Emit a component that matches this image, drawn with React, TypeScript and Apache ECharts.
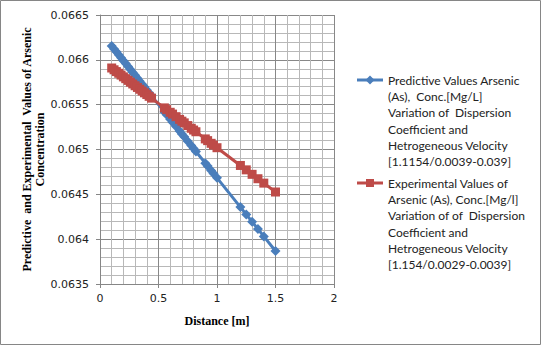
import React, { useEffect, useRef } from "react";
import * as echarts from "echarts";

const distance = [
  0.1, 0.12, 0.14, 0.16, 0.18, 0.2, 0.22, 0.24, 0.26, 0.28, 0.3, 0.32, 0.34, 0.36, 0.38, 0.4, 0.42, 0.44,
  0.55, 0.57, 0.6, 0.62, 0.65, 0.68, 0.7, 0.72, 0.75, 0.78, 0.8, 0.82, 0.9, 0.92, 0.95, 0.97, 1.0,
  1.2, 1.25, 1.3, 1.35, 1.4, 1.5,
];

const predictive = [
  0.066154, 0.066121, 0.066089, 0.066056, 0.066023, 0.065991, 0.065958, 0.065925, 0.065893, 0.06586,
  0.065827, 0.065795, 0.065762, 0.065729, 0.065697, 0.065664, 0.065631, 0.065599,
  0.065419, 0.065387, 0.065338, 0.065305, 0.065256, 0.065207, 0.065174, 0.065142, 0.065093, 0.065044,
  0.065011, 0.064978, 0.064848, 0.064815, 0.064766, 0.064733, 0.064684,
  0.064358, 0.064276, 0.064194, 0.064113, 0.064031, 0.063868,
];

const experimental = [
  0.065909, 0.065889, 0.065869, 0.06585, 0.06583, 0.06581, 0.06579, 0.065771, 0.065751, 0.065731,
  0.065711, 0.065692, 0.065672, 0.065652, 0.065632, 0.065613, 0.065593, 0.065573,
  0.065464, 0.065445, 0.065415, 0.065395, 0.065366, 0.065336, 0.065316, 0.065297, 0.065267, 0.065237,
  0.065217, 0.065198, 0.065118, 0.065099, 0.065069, 0.065049, 0.06502,
  0.064822, 0.064773, 0.064723, 0.064674, 0.064625, 0.064526,
];

const predictiveLegend = [
  "Predictive Values Arsenic",
  "(As),  Conc.[Mg/L]",
  "Variation of  Dispersion",
  "Coefficient and",
  "Hetrogeneous Velocity",
  "[1.1154/0.0039-0.039]",
];
const experimentalLegend = [
  "Experimental Values of",
  "Arsenic (As), Conc.[Mg/l]",
  "Variation of of  Dispersion",
  "Coefficient and",
  "Hetrogeneous Velocity",
  "[1.154/0.0029-0.0039]",
];

const BLUE = "#4A7EBB";
const RED = "#BE4B48";

export default function App() {
  const ref = useRef<HTMLDivElement>(null);
  useEffect(() => {
    const chart = echarts.init(ref.current!, null, { renderer: "svg" });
    const pairs = (ys: number[]) => distance.map((x, i) => [x, ys[i]]);
    chart.setOption({
      animation: false,
      backgroundColor: "#ffffff",
      grid: { left: 100, top: 15, right: 207, bottom: 61 },
      xAxis: {
        type: "value",
        min: 0,
        max: 2,
        interval: 0.5,
        name: "Distance [m]",
        nameLocation: "middle",
        nameGap: 31,
        nameTextStyle: { fontFamily: "Liberation Serif", fontWeight: "bold", fontSize: 12, color: "#000" },
        axisLine: { show: true, onZero: false, lineStyle: { color: "#868686", width: 1 } },
        axisTick: { show: true, length: 4, lineStyle: { color: "#868686" } },
        axisLabel: { margin: 9, fontFamily: "DejaVu Sans", fontSize: 11, color: "#222" },
        splitLine: { show: true, lineStyle: { color: "#888888", width: 1 } },
        minorTick: { show: false, splitNumber: 5 },
        minorSplitLine: { show: true, lineStyle: { color: "#b8b8b8", width: 1 } },
      },
      yAxis: {
        type: "value",
        min: 0.0635,
        max: 0.0665,
        interval: 0.0005,
        name: "Predictive  and Experimental  Values of Arsenic\nConcentration",
        nameLocation: "middle",
        nameGap: 49,
        nameRotate: 90,
        nameTextStyle: {
          fontFamily: "Liberation Serif",
          fontWeight: "bold",
          fontSize: 12,
          color: "#000",
          lineHeight: 13,
          align: "center",
        },
        axisLine: { show: true, onZero: false, lineStyle: { color: "#868686", width: 1 } },
        axisTick: { show: true, length: 4, lineStyle: { color: "#868686" } },
        axisLabel: {
          margin: 11,
          fontFamily: "DejaVu Sans",
          fontSize: 11,
          color: "#222",
          formatter: (v: number) => String(+v.toFixed(4)),
        },
        splitLine: { show: true, lineStyle: { color: "#888888", width: 1 } },
        minorTick: { show: false, splitNumber: 5 },
        minorSplitLine: { show: true, lineStyle: { color: "#b8b8b8", width: 1 } },
      },
      series: [
        {
          name: "Predictive",
          type: "line",
          data: pairs(predictive),
          symbol: "diamond",
          symbolSize: 10,
          showAllSymbol: true,
          lineStyle: { color: BLUE, width: 3 },
          itemStyle: { color: BLUE },
          z: 3,
        },
        {
          name: "Experimental",
          type: "line",
          data: pairs(experimental),
          symbol: "rect",
          symbolSize: 9,
          showAllSymbol: true,
          lineStyle: { color: RED, width: 3 },
          itemStyle: { color: RED },
          z: 4,
        },
      ],
      graphic: [
        {
          type: "rect",
          shape: { x: 0.5, y: 0.5, width: 540, height: 344 },
          style: { fill: "none", stroke: "#868686", lineWidth: 1 },
          silent: true,
        },
        { type: "line", shape: { x1: 357, y1: 80, x2: 383, y2: 80 }, style: { stroke: BLUE, lineWidth: 3 } },
        {
          type: "polygon",
          shape: { points: [[370, 75.5], [374.5, 80], [370, 84.5], [365.5, 80]] },
          style: { fill: BLUE },
        },
        {
          type: "text",
          x: 388,
          y: 72,
          style: {
            text: predictiveLegend.join("\n"),
            fontFamily: "Lato",
            fontSize: 12,
            lineHeight: 16.3,
            fill: "#222",
            verticalAlign: "top",
            align: "left",
          },
        },
        { type: "line", shape: { x1: 357, y1: 183, x2: 383, y2: 183 }, style: { stroke: RED, lineWidth: 3 } },
        { type: "rect", shape: { x: 366, y: 179, width: 8, height: 8 }, style: { fill: RED } },
        {
          type: "text",
          x: 388,
          y: 175,
          style: {
            text: experimentalLegend.join("\n"),
            fontFamily: "Lato",
            fontSize: 12,
            lineHeight: 16.3,
            fill: "#222",
            verticalAlign: "top",
            align: "left",
          },
        },
      ],
    });
    return () => chart.dispose();
  }, []);
  return (
    <div
      ref={ref}
      style={{ position: "fixed", left: 0, top: 0, width: 541, height: 345 }}
    />
  );
}
